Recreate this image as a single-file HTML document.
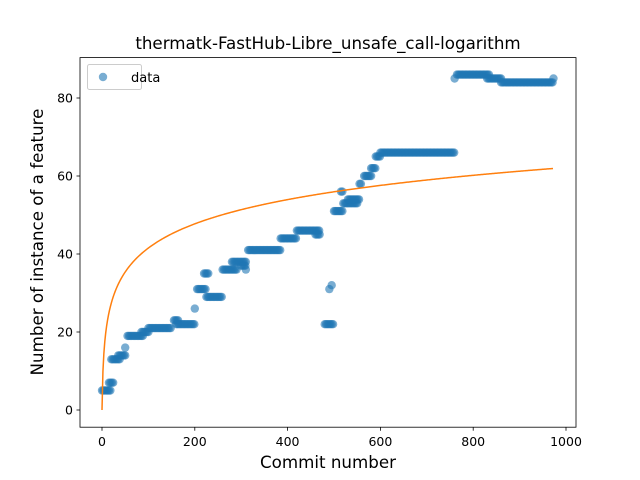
<!DOCTYPE html>
<html><head><meta charset="utf-8"><style>
body{margin:0;background:#fff}
svg{display:block;font-family:"DejaVu Sans","Liberation Sans",sans-serif}
</style></head><body>
<svg id="chart" width="640" height="480" xmlns="http://www.w3.org/2000/svg">
<rect width="640" height="480" fill="#fff"/>
<text x="328" y="49" font-size="16.7" text-anchor="middle">thermatk-FastHub-Libre_unsafe_call-logarithm</text>
<text x="328" y="468" font-size="16.7" text-anchor="middle">Commit number</text>
<text transform="translate(43,242) rotate(-90)" font-size="16.7" text-anchor="middle">Number of instance of a feature</text>
<g id="marks"></g>
<g id="axes"></g>
<g>
<rect x="87.5" y="64.5" width="54" height="25" fill="#fff" fill-opacity="0.8" stroke="#ccc" rx="2"/>
<circle cx="103" cy="77" r="4.2" fill="#1f77b4" fill-opacity="0.6"/>
<text x="131" y="82" font-size="13">data</text>
</g>
</svg>
<script>
const runStart = [0,15,20,35,50,55,85,100,155,160,200,205,220,225,260,280,300,310,315,385,420,460,480,490,495,500,515,520,530,555,565,580,590,600,760,765,830,860,973];
const runEnd   = [20,25,40,50,50,90,100,150,165,200,200,225,230,260,290,310,310,310,385,420,470,470,500,490,495,520,520,550,555,560,580,590,600,760,760,835,860,973,973];
const runValue = [5,7,13,14,16,19,20,21,23,22,26,31,35,29,36,38,37,36,41,44,46,45,22,31,32,51,56,53,54,58,60,62,65,66,85,86,85,84,85];
const xTicks = [0,200,400,600,800,1000];
const yTicks = [0,20,40,60,80];
const fitA = 9.0, fitMax = 973;
const X = v => 102 + 0.464*v;
const Y = v => 410 - 3.9*v;
const NS = "http://www.w3.org/2000/svg";
const marks = document.getElementById('marks');
const axes = document.getElementById('axes');
function mk(tag, attrs, parent){const e=document.createElementNS(NS,tag);for(const k in attrs)e.setAttribute(k,attrs[k]);parent.appendChild(e);return e;}
for(let i=0;i<runStart.length;i++){
  for(let c=runStart[i]; c<=runEnd[i]; c+=3){
    const p = mk('circle',{cx:X(c),cy:Y(runValue[i]),r:4.2,fill:'#1f77b4','fill-opacity':0.6},marks);
    
    
  }
}
let d='';
for(let x=0;x<=fitMax;x+=2){d+=(x?'L':'M')+X(x).toFixed(2)+' '+Y(fitA*Math.log(1+x)).toFixed(2);}
const fl = mk('path',{d:d,fill:'none',stroke:'#ff7f0e','stroke-width':1.5},marks);


const fr = mk('rect',{x:80,y:57.6,width:496,height:369.6,fill:'none',stroke:'#000','stroke-width':0.8},axes);


xTicks.forEach(t=>{
  mk('line',{x1:X(t),x2:X(t),y1:427.2,y2:430.7,stroke:'#000','stroke-width':0.8},axes);
  const l = mk('text',{x:X(t),y:446,'font-size':12.5,'text-anchor':'middle'},axes);
  l.textContent=t;
  
  
});
yTicks.forEach(t=>{
  mk('line',{x1:76.5,x2:80,y1:Y(t),y2:Y(t),stroke:'#000','stroke-width':0.8},axes);
  const l = mk('text',{x:73,y:Y(t)+4.5,'font-size':12.5,'text-anchor':'end'},axes);
  l.textContent=t;
  
  
});
</script>
</body></html>
